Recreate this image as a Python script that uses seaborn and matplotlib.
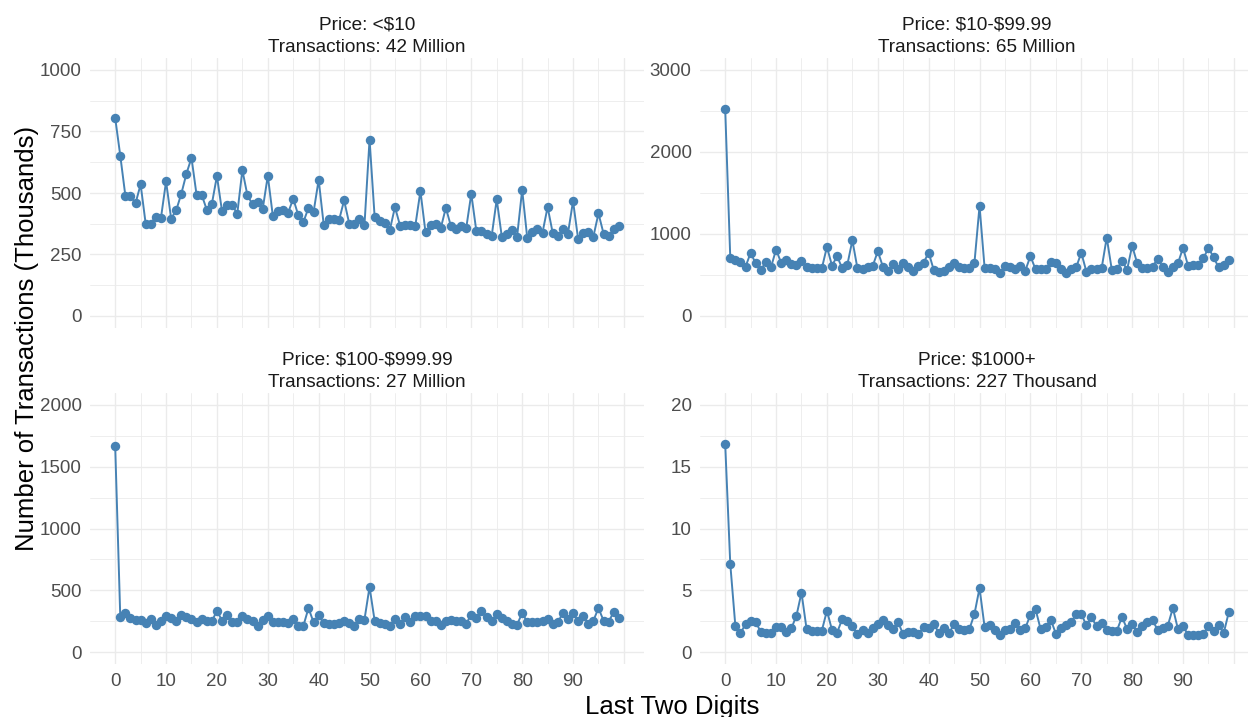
import matplotlib
matplotlib.use("Agg")
import matplotlib.pyplot as plt
import numpy as np
import pandas as pd
import seaborn as sns

# last two digits of the price (cents), 0..99
digits = list(range(100))

# transactions (thousands) per last-two-digit value
under_10 = [
    805, 652, 489, 489, 458, 535, 374, 376, 403, 399,
    547, 396, 430, 497, 578, 643, 492, 493, 432, 455,
    569, 426, 451, 450, 416, 593, 490, 454, 463, 435,
    570, 405, 426, 430, 420, 477, 409, 382, 440, 423,
    554, 369, 393, 396, 389, 470, 376, 376, 394, 369,
    717, 403, 386, 378, 351, 443, 367, 369, 369, 367,
    508, 340, 371, 373, 357, 440, 365, 355, 366, 357,
    497, 344, 344, 335, 324, 474, 322, 332, 349, 322,
    513, 317, 343, 354, 339, 443, 338, 324, 354, 335,
    467, 313, 338, 342, 323, 417, 335, 324, 354, 365,
]
from_10 = [
    2528, 710, 681, 657, 601, 770, 641, 560, 661, 593,
    810, 649, 681, 633, 621, 673, 601, 581, 581, 581,
    843, 613, 730, 581, 621, 923, 581, 569, 593, 609,
    790, 601, 548, 633, 569, 649, 593, 552, 609, 649,
    774, 560, 532, 552, 593, 641, 592, 582, 590, 650,
    1341, 582, 582, 570, 521, 610, 594, 570, 610, 553,
    731, 570, 574, 570, 663, 650, 570, 521, 570, 594,
    772, 541, 570, 570, 582, 957, 562, 570, 675, 562,
    856, 642, 582, 582, 602, 695, 602, 541, 594, 642,
    832, 610, 622, 622, 703, 832, 715, 594, 622, 683,
]
from_100 = [
    1669, 286, 319, 273, 259, 259, 238, 270, 219, 254,
    292, 273, 251, 297, 286, 265, 240, 270, 254, 248,
    335, 254, 297, 243, 243, 292, 270, 254, 211, 259,
    294, 240, 240, 240, 232, 265, 213, 213, 356, 240,
    297, 232, 224, 224, 238, 248, 232, 214, 264, 262,
    527, 254, 235, 230, 213, 267, 227, 284, 240, 294,
    289, 289, 248, 248, 221, 248, 262, 248, 248, 230,
    302, 275, 329, 284, 248, 308, 275, 254, 227, 221,
    316, 243, 243, 243, 248, 267, 227, 240, 316, 267,
    316, 248, 294, 230, 254, 356, 254, 246, 324, 275,
]
from_1000 = [
    16.85, 7.13, 2.11, 1.51, 2.27, 2.51, 2.40, 1.65, 1.51, 1.51,
    2.00, 2.05, 1.65, 1.92, 2.92, 4.81, 1.86, 1.73, 1.73, 1.73,
    3.35, 1.78, 1.57, 2.67, 2.51, 2.11, 1.43, 1.78, 1.51, 1.92,
    2.27, 2.59, 2.19, 1.86, 2.40, 1.43, 1.65, 1.59, 1.43, 2.05,
    1.92, 2.27, 1.57, 1.92, 1.51, 2.27, 1.84, 1.82, 1.85, 3.08,
    5.18, 2.00, 2.21, 1.76, 1.40, 1.76, 1.86, 2.35, 1.76, 1.94,
    3.02, 3.48, 1.86, 2.00, 2.62, 1.49, 1.94, 2.21, 2.40, 3.08,
    3.08, 2.16, 2.81, 2.08, 2.35, 1.81, 1.67, 1.73, 2.84, 1.86,
    2.30, 1.59, 2.08, 2.40, 2.57, 1.81, 1.94, 2.13, 3.56, 1.86,
    2.08, 1.40, 1.40, 1.40, 1.49, 2.08, 1.67, 2.16, 1.54, 3.24,
]

titles = [
    "Price: <$10\nTransactions: 42 Million",
    "Price: $10-$99.99\nTransactions: 65 Million",
    "Price: $100-$999.99\nTransactions: 27 Million",
    "Price: $1000+\nTransactions: 227 Thousand",
]
series = [under_10, from_10, from_100, from_1000]
y_max = [1000, 3000, 2000, 20]
y_step = [250, 1000, 500, 5]

sns.set_theme(style="white")
plt.rcParams["font.family"] = ["Liberation Sans", "DejaVu Sans"]
plt.rcParams["text.parse_math"] = False  # keep the $ signs literal

W, H = 1248, 717
fig = plt.figure(figsize=(W / 100, H / 100), dpi=100)

# panel boxes in pixels: (left, top, right, bottom)
boxes = [
    (90, 57.7, 644, 328.3),
    (700, 57.7, 1254, 328.3),
    (90, 392.6, 644, 664.4),
    (700, 392.6, 1254, 664.4),
]

grid_col = "#EBEBEB"
for i, (vals, title) in enumerate(zip(series, titles)):
    l, t, r, b = boxes[i]
    ax = fig.add_axes([l / W, 1 - b / H, (r - l) / W, (b - t) / H])
    df = pd.DataFrame({"digit": digits, "count": vals})
    sns.lineplot(
        data=df, x="digit", y="count", ax=ax,
        color="steelblue", linewidth=1.4,
        marker="o", markersize=6.8, markeredgewidth=0,
    )
    ym, ys = y_max[i], y_step[i]
    pad = ym * 0.05
    ax.set_ylim(-pad, ym + pad)
    ax.set_xlim(-4.95, 103.95)
    ax.set_yticks(np.arange(0, ym + ys / 2, ys))
    ax.set_yticks(np.arange(ys / 2, ym, ys), minor=True)
    ax.set_xticks(np.arange(0, 101, 10))
    ax.set_xticks(np.arange(5, 100, 10), minor=True)
    if i >= 2:
        ax.set_xticklabels([str(v) for v in range(0, 91, 10)] + [""])
    else:
        ax.set_xticklabels([])
    ax.grid(which="major", color=grid_col, linewidth=1.0)
    ax.grid(which="minor", color=grid_col, linewidth=0.6)
    ax.set_axisbelow(True)
    ax.tick_params(which="both", length=0, labelsize=13.5,
                   labelcolor="#4D4D4D", pad=6)
    for s in ax.spines.values():
        s.set_visible(False)
    ax.set_xlabel("")
    ax.set_ylabel("")
    ax.set_title(title, fontsize=13.7, color="#1A1A1A", pad=4, linespacing=1.45)

fig.text(672 / W, 1 - 707 / H, "Last Two Digits", ha="center", va="center",
         fontsize=18.5, color="black")
fig.text(27 / W, 1 - 338 / H, "Number of Transactions (Thousands)", ha="center",
         va="center", rotation=90, fontsize=18.5, color="black")

fig.savefig("out.png", dpi=100)
